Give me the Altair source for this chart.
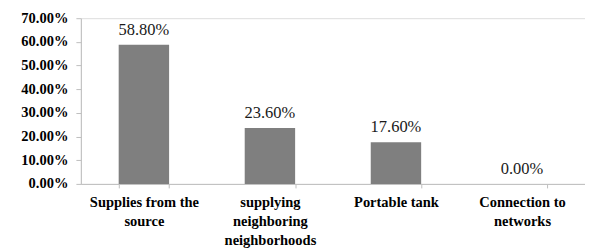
import altair as alt
import pandas as pd

categories = [
    "Supplies from the\nsource",
    "supplying\nneighboring\nneighborhoods",
    "Portable tank",
    "Connection to\nnetworks",
]
values = [0.588, 0.236, 0.176, 0.0]
y_ticks = [0, 0.1, 0.2, 0.3, 0.4, 0.5, 0.6, 0.7]

df = pd.DataFrame({"category": categories, "value": values})

FONT = "Times New Roman"

base = alt.Chart(df).encode(
    x=alt.X(
        "category:N",
        sort=categories,
        scale=alt.Scale(paddingInner=0.6, paddingOuter=0.3),
        axis=alt.Axis(
            title=None,
            labelAngle=0,
            labelExpr="split(datum.label, '\\n')",
            labelFont=FONT,
            labelFontSize=14.5,
            labelFontWeight="bold",
            labelColor="#000000",
            labelLineHeight=19,
            labelPadding=8,
            tickBand="extent",
            tickSize=4,
            tickColor="#bfbfbf",
            domainColor="#bfbfbf",
        ),
    ),
    y=alt.Y(
        "value:Q",
        scale=alt.Scale(domain=[0, 0.7], nice=False),
        axis=alt.Axis(
            title=None,
            values=y_ticks,
            format=".2%",
            grid=False,
            labelFont=FONT,
            labelFontSize=14.5,
            labelFontWeight="bold",
            labelColor="#000000",
            tickSize=5,
            tickColor="#bfbfbf",
            domainColor="#bfbfbf",
            labelPadding=8,
        ),
    ),
)

bars = base.mark_bar(color="#7f7f7f")
labels = base.mark_text(
    baseline="bottom", dy=-7, font=FONT, fontSize=16.5, color="#1a1a1a"
).encode(text=alt.Text("value:Q", format=".2%"))

chart = (
    (bars + labels)
    .properties(width=505, height=166, padding={"left": 12, "top": 2, "right": 0, "bottom": 0})
    .configure_view(stroke=None)
    .configure(background="#ffffff", font=FONT)
)

chart.save("out.html", embed_options={"renderer": "svg", "actions": False})
